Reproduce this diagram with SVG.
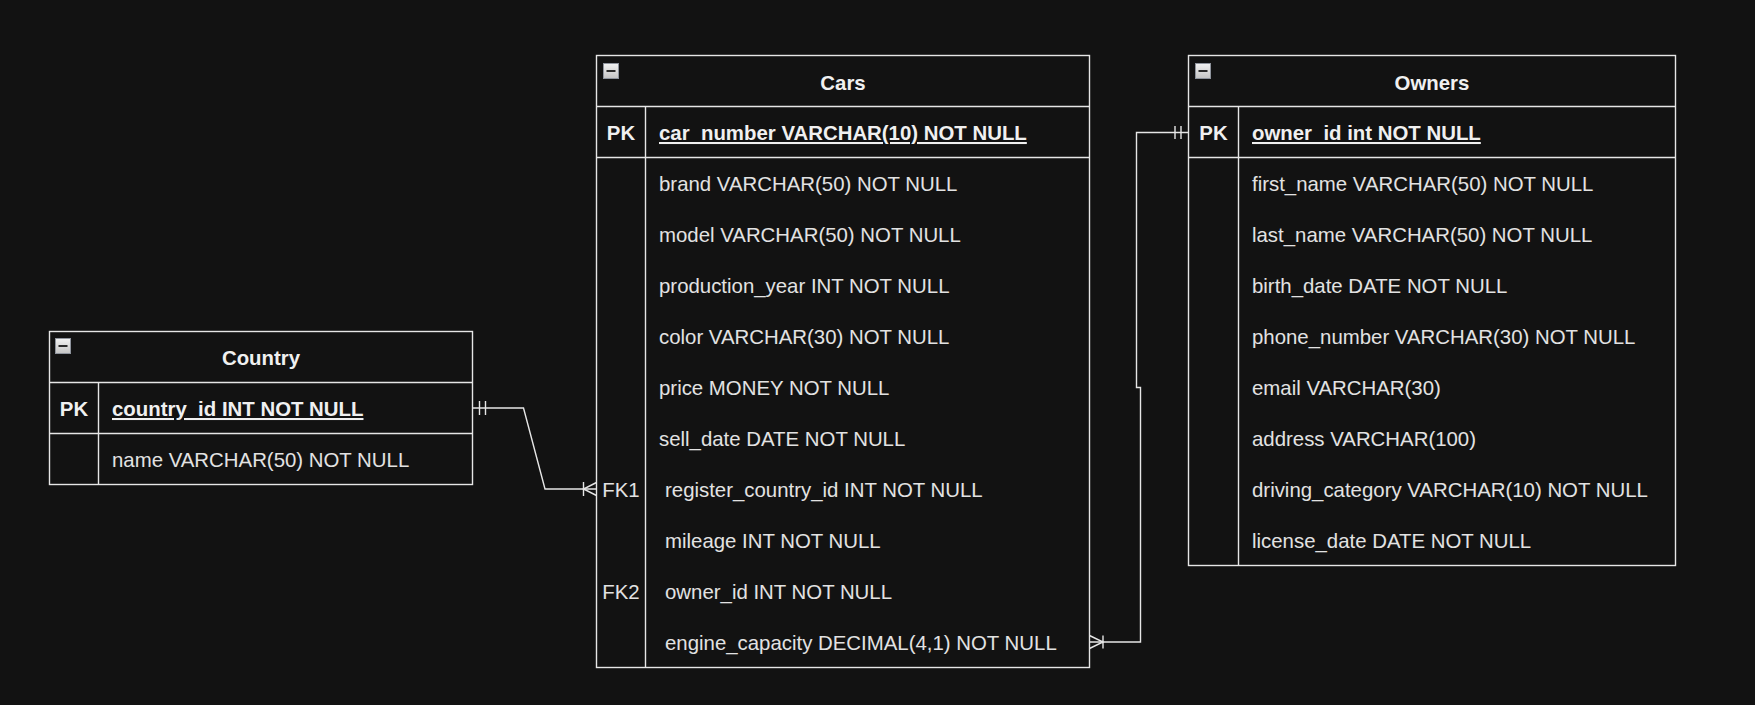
<svg xmlns="http://www.w3.org/2000/svg" width="1755" height="705" viewBox="0 0 1755 705">
<style>
.bg{fill:#121212}
.box{fill:#121212;stroke:#e6e6e6;stroke-width:1.4}
.ln{stroke:#e6e6e6;stroke-width:1.4;fill:none}
.t{font-family:"Liberation Sans",Arial,sans-serif;font-size:20.4px;fill:#e2e2e2}
.b{font-weight:bold;fill:#f0f0f0}
.c{text-anchor:middle}
.u{text-decoration:underline}
.icb{fill:url(#ig);stroke:#8e939c;stroke-width:1}
.icd{fill:#2a2a2a}
</style>
<defs>
<linearGradient id="ig" x1="0" y1="0" x2="0" y2="1">
<stop offset="0" stop-color="#f2f2f2"/>
<stop offset="1" stop-color="#c4c4c4"/>
</linearGradient>
<g id="icon">
<rect class="icb" x="0.5" y="0.5" width="15" height="15"/>
<rect class="icd" x="3.5" y="7" width="9" height="2"/>
</g>
</defs>
<rect class="bg" x="0" y="0" width="1755" height="705"/>

<g id="connectors">
<path class="ln" d="M472.5 408 L523.5 408 L545 489 L596.5 489"/>
<path class="ln" d="M479.5 401 V415 M485.5 401 V415"/>
<path class="ln" d="M583.5 482 V496 M596.5 482.5 L583.5 489 L596.5 495.5"/>
<path class="ln" d="M1089.5 642 H1140.5 V387.5 H1136.5 V132.5 H1188.5"/>
<path class="ln" d="M1175 126 V139 M1181 126 V139"/>
<path class="ln" d="M1103 635.5 V648.5 M1089.5 635.5 L1103 642 L1089.5 648.5"/>
</g>

<g id="country">
<rect class="box" x="49.5" y="331.5" width="423" height="153"/>
<path class="ln" d="M49.5 382.5 H472.5 M49.5 433.5 H472.5 M98.5 382.5 V484.5"/>
<use href="#icon" x="55" y="338"/>
<text class="t b c" x="261" y="365">Country</text>
<text class="t b c" x="74" y="416">PK</text>
<text class="t b u" x="112" y="416">country_id INT NOT NULL</text>
<text class="t" x="112" y="467">name VARCHAR(50) NOT NULL</text>
</g>

<g id="cars">
<rect class="box" x="596.5" y="55.5" width="493" height="612"/>
<path class="ln" d="M596.5 106.5 H1089.5 M596.5 157.5 H1089.5 M645.5 106.5 V667.5"/>
<use href="#icon" x="603" y="63"/>
<text class="t b c" x="843" y="90">Cars</text>
<text class="t b c" x="621" y="140">PK</text>
<text class="t b u" x="659" y="140">car_number VARCHAR(10) NOT NULL</text>
<text class="t" x="659" y="191">brand VARCHAR(50) NOT NULL</text>
<text class="t" x="659" y="242">model VARCHAR(50) NOT NULL</text>
<text class="t" x="659" y="293">production_year INT NOT NULL</text>
<text class="t" x="659" y="344">color VARCHAR(30) NOT NULL</text>
<text class="t" x="659" y="395">price MONEY NOT NULL</text>
<text class="t" x="659" y="446">sell_date DATE NOT NULL</text>
<text class="t c" x="621" y="497">FK1</text>
<text class="t" x="665" y="497">register_country_id INT NOT NULL</text>
<text class="t" x="665" y="548">mileage INT NOT NULL</text>
<text class="t c" x="621" y="599">FK2</text>
<text class="t" x="665" y="599">owner_id INT NOT NULL</text>
<text class="t" x="665" y="650">engine_capacity DECIMAL(4,1) NOT NULL</text>
</g>

<g id="owners">
<rect class="box" x="1188.5" y="55.5" width="487" height="510"/>
<path class="ln" d="M1188.5 106.5 H1675.5 M1188.5 157.5 H1675.5 M1238.5 106.5 V565.5"/>
<use href="#icon" x="1195" y="63"/>
<text class="t b c" x="1432" y="90">Owners</text>
<text class="t b c" x="1213.5" y="140">PK</text>
<text class="t b u" x="1252" y="140">owner_id int NOT NULL</text>
<text class="t" x="1252" y="191">first_name VARCHAR(50) NOT NULL</text>
<text class="t" x="1252" y="242">last_name VARCHAR(50) NOT NULL</text>
<text class="t" x="1252" y="293">birth_date DATE NOT NULL</text>
<text class="t" x="1252" y="344">phone_number VARCHAR(30) NOT NULL</text>
<text class="t" x="1252" y="395">email VARCHAR(30)</text>
<text class="t" x="1252" y="446">address VARCHAR(100)</text>
<text class="t" x="1252" y="497">driving_category VARCHAR(10) NOT NULL</text>
<text class="t" x="1252" y="548">license_date DATE NOT NULL</text>
</g>
</svg>
